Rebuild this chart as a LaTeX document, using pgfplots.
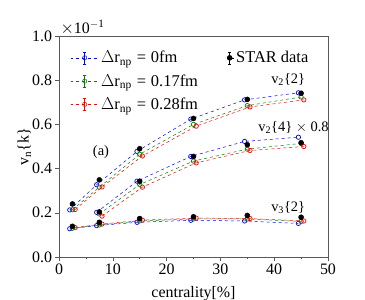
\documentclass[border=0pt]{standalone}
\usepackage{pgfplots}
\pgfplotsset{compat=1.18}
\usepackage{fontspec}
\setmainfont{Liberation Serif}
\definecolor{mgreen}{rgb}{0,0.5,0}
\pgfplotsset{
  errleg/.style={legend image code/.code={
    \draw[##1] (0cm,0cm) -- (1.0cm,0cm);
    \draw[##1, solid] (0.5cm,-0.21cm) -- (0.5cm,0.21cm) (0.45cm,-0.21cm) -- (0.55cm,-0.21cm) (0.45cm,0.21cm) -- (0.55cm,0.21cm);
    \draw[##1, only marks] plot coordinates {(0.5cm,0cm)};}},
  starleg/.style={legend image code/.code={
    \path (0.1cm,0cm) -- (0.35cm,0cm);
    \draw[black, solid] (0.2cm,-0.21cm) -- (0.2cm,0.21cm) (0.15cm,-0.21cm) -- (0.25cm,-0.21cm) (0.15cm,0.21cm) -- (0.25cm,0.21cm);
    \draw[##1] plot coordinates {(0.2cm,0cm)};}},
}
\newcommand{\eq}{\hspace{0.3em}=\hspace{0.3em}}
\begin{document}
\begin{tikzpicture}
\useasboundingbox (-59bp,-43bp) rectangle (306bp,257bp);
\begin{axis}[
  scale only axis, width=269bp, height=221bp,
  clip mode=individual,
  xmin=0, xmax=50, ymin=0, ymax=1.0,
  xtick={0,10,20,30,40,50}, ytick={0,0.2,0.4,0.6,0.8,1.0},
  minor x tick num=1,
  tick align=outside, tick pos=left,
  major tick length=3.5bp, minor tick length=2bp,
  axis line style={gray!70!black}, every tick/.style={gray!70!black},
  /pgf/number format/assume math mode=true,
  yticklabel style={/pgf/number format/fixed,/pgf/number format/fixed zerofill,/pgf/number format/precision=1},
  ticklabel style={font=\fontsize{16}{16}\selectfont},
  scaled y ticks=false,
  label style={font=\fontsize{16}{16}\selectfont},
  xlabel={centrality[\%]},
  ylabel={v\textsubscript{n}\{k\}},
  xlabel style={yshift=-5bp},
  ylabel style={yshift=-6bp},
  legend columns=2,
  legend cell align=left,
  legend style={draw=none, fill=none, at={(0.03,0.95)}, anchor=north west, font=\fontsize{16.5}{16.5}\selectfont, row sep=6bp,
    /tikz/every even column/.append style={column sep=24bp}},
  every axis plot/.append style={line width=0.5pt},
  err/.style={forget plot, dashed, mark=o, mark size=2.2pt, mark options={solid, line width=0.7pt}},
  star/.style={forget plot, only marks, mark=*, mark size=2.5pt, black},
]
% ---- v2{2}
\addplot[err, blue] coordinates {(2.0,0.213) (7.0,0.327) (14.5,0.478) (24.5,0.624) (34.5,0.711) (44.5,0.743)};
\addplot[err, mgreen] coordinates {(2.5,0.214) (7.5,0.316) (15.0,0.465) (25.0,0.600) (35.0,0.685) (45.0,0.724)};
\addplot[err, red] coordinates {(3.0,0.215) (8.0,0.317) (15.5,0.457) (25.5,0.592) (35.5,0.679) (45.5,0.711)};
\addplot[star] coordinates {(2.5,0.240) (7.5,0.349) (15.0,0.490) (25.0,0.627) (35.0,0.713) (45.0,0.741)};
% ---- v2{4} x 0.8
\addplot[err, blue] coordinates {(7.0,0.202) (14.5,0.343) (24.5,0.455) (34.5,0.523) (44.5,0.542)};
\addplot[err, mgreen] coordinates {(7.5,0.195) (15.0,0.328) (25.0,0.434) (35.0,0.488) (45.0,0.514)};
\addplot[err, red] coordinates {(8.0,0.185) (15.5,0.316) (25.5,0.426) (35.5,0.482) (45.5,0.500)};
\addplot[star] coordinates {(7.5,0.204) (15.0,0.343) (25.0,0.455) (35.0,0.508) (45.0,0.517)};
% ---- v3{2}
\addplot[err, blue] coordinates {(2.0,0.128) (7.0,0.142) (14.5,0.157) (24.5,0.166) (34.5,0.163) (44.5,0.152)};
\addplot[err, mgreen] coordinates {(2.5,0.130) (7.5,0.145) (15.0,0.163) (25.0,0.172) (35.0,0.172) (45.0,0.161)};
\addplot[err, red] coordinates {(3.0,0.133) (8.0,0.149) (15.5,0.167) (25.5,0.176) (35.5,0.174) (45.5,0.163)};
\addplot[star] coordinates {(2.5,0.139) (7.5,0.157) (15.0,0.174) (25.0,0.182) (35.0,0.188) (45.0,0.180)};
% ---- legend
\addlegendimage{blue, dashed, mark=o, mark size=2.2pt, mark options={solid}, errleg}
\addlegendentry{$\Delta$r\textsubscript{np}\eq0fm}
\addlegendimage{black, only marks, mark=*, mark size=2.5pt, starleg}
\addlegendentry{STAR data}
\addlegendimage{mgreen, dashed, mark=o, mark size=2.2pt, mark options={solid}, errleg}
\addlegendentry{$\Delta$r\textsubscript{np}\eq0.17fm}
\addlegendimage{empty legend}
\addlegendentry{}
\addlegendimage{red, dashed, mark=o, mark size=2.2pt, mark options={solid}, errleg}
\addlegendentry{$\Delta$r\textsubscript{np}\eq0.28fm}
\addlegendimage{empty legend}
\addlegendentry{}
% ---- annotations
\node[font=\fontsize{14.5}{14.5}\selectfont] at (axis cs:42.6,0.805) {v\textsubscript{2}\{2\}};
\node[font=\fontsize{14.5}{14.5}\selectfont] at (axis cs:43.6,0.587) {v\textsubscript{2}\{4\} $\times$ 0.8};
\node[font=\fontsize{14.5}{14.5}\selectfont] at (axis cs:42.6,0.222) {v\textsubscript{3}\{2\}};
\node[font=\fontsize{14.5}{14.5}\selectfont] at (axis cs:7.8,0.473) {(a)};
\node[anchor=base west, font=\fontsize{16}{16}\selectfont, inner sep=0pt, yshift=2bp] at (rel axis cs:0.005,1) {$\times$10\textsuperscript{$-$1}};
\end{axis}
\end{tikzpicture}
\end{document}
